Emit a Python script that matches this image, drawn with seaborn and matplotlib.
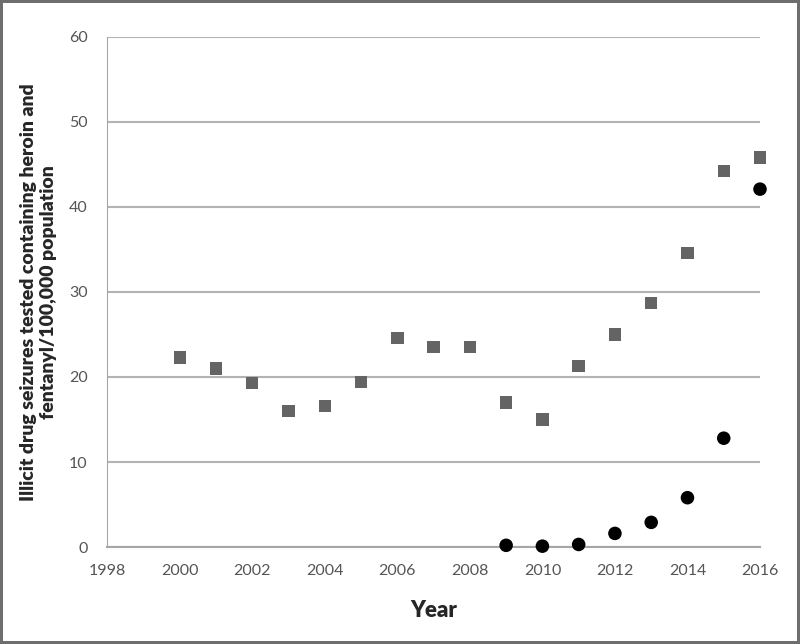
import pandas as pd
import matplotlib.pyplot as plt
import seaborn as sns

# data
heroin_years = [2000, 2001, 2002, 2003, 2004, 2005, 2006, 2007, 2008,
                2009, 2010, 2011, 2012, 2013, 2014, 2015, 2016]
heroin_vals = [22.3, 21.0, 19.3, 16.0, 16.6, 19.4, 24.6, 23.5, 23.5,
               17.0, 15.0, 21.3, 25.0, 28.7, 34.6, 44.2, 45.8]
fent_years = [2009, 2010, 2011, 2012, 2013, 2014, 2015, 2016]
fent_vals = [0.2, 0.1, 0.3, 1.6, 2.9, 5.8, 12.8, 42.1]

heroin = pd.DataFrame({'year': heroin_years, 'value': heroin_vals})
fent = pd.DataFrame({'year': fent_years, 'value': fent_vals})

sns.set_style('white')
plt.rcParams['font.family'] = ['Lato', 'DejaVu Sans']

fig = plt.figure(figsize=(8, 6.44), dpi=100)
fig.patch.set_edgecolor('#6e6e6e')
fig.patch.set_linewidth(3)
ax = fig.add_axes([0.134, 0.1506, 0.816, 0.792])

sns.scatterplot(data=heroin, x='year', y='value', marker='s', s=80,
                color='#646464', edgecolor='none', ax=ax, zorder=3, clip_on=False)
sns.scatterplot(data=fent, x='year', y='value', marker='o', s=95,
                color='black', edgecolor='none', ax=ax, zorder=3, clip_on=False)

ax.set_xlim(1998, 2016)
ax.set_ylim(0, 60)
ax.set_xticks(range(1998, 2017, 2))
ax.set_yticks(range(0, 61, 10))
ax.yaxis.grid(True, color='#b3b3b3', linewidth=1.5)
ax.set_axisbelow(True)
for side in ['top', 'right']:
    ax.spines[side].set_visible(False)
ax.spines['left'].set_color('#a6a6a6')
ax.spines['bottom'].set_color('#a6a6a6')
ax.spines['bottom'].set_linewidth(1.5)
ax.tick_params(axis='both', length=0, labelsize=11.5, labelcolor='#555555')
ax.tick_params(axis='x', pad=12)
ax.tick_params(axis='y', pad=14)

ax.set_xlabel('Year', fontsize=16, fontweight='heavy', labelpad=16)
ax.set_ylabel('Illicit drug seizures tested containing heroin and\nfentanyl/100,000 population',
              fontsize=14, fontweight='heavy', labelpad=9)

fig.savefig('out.png', dpi=100)
